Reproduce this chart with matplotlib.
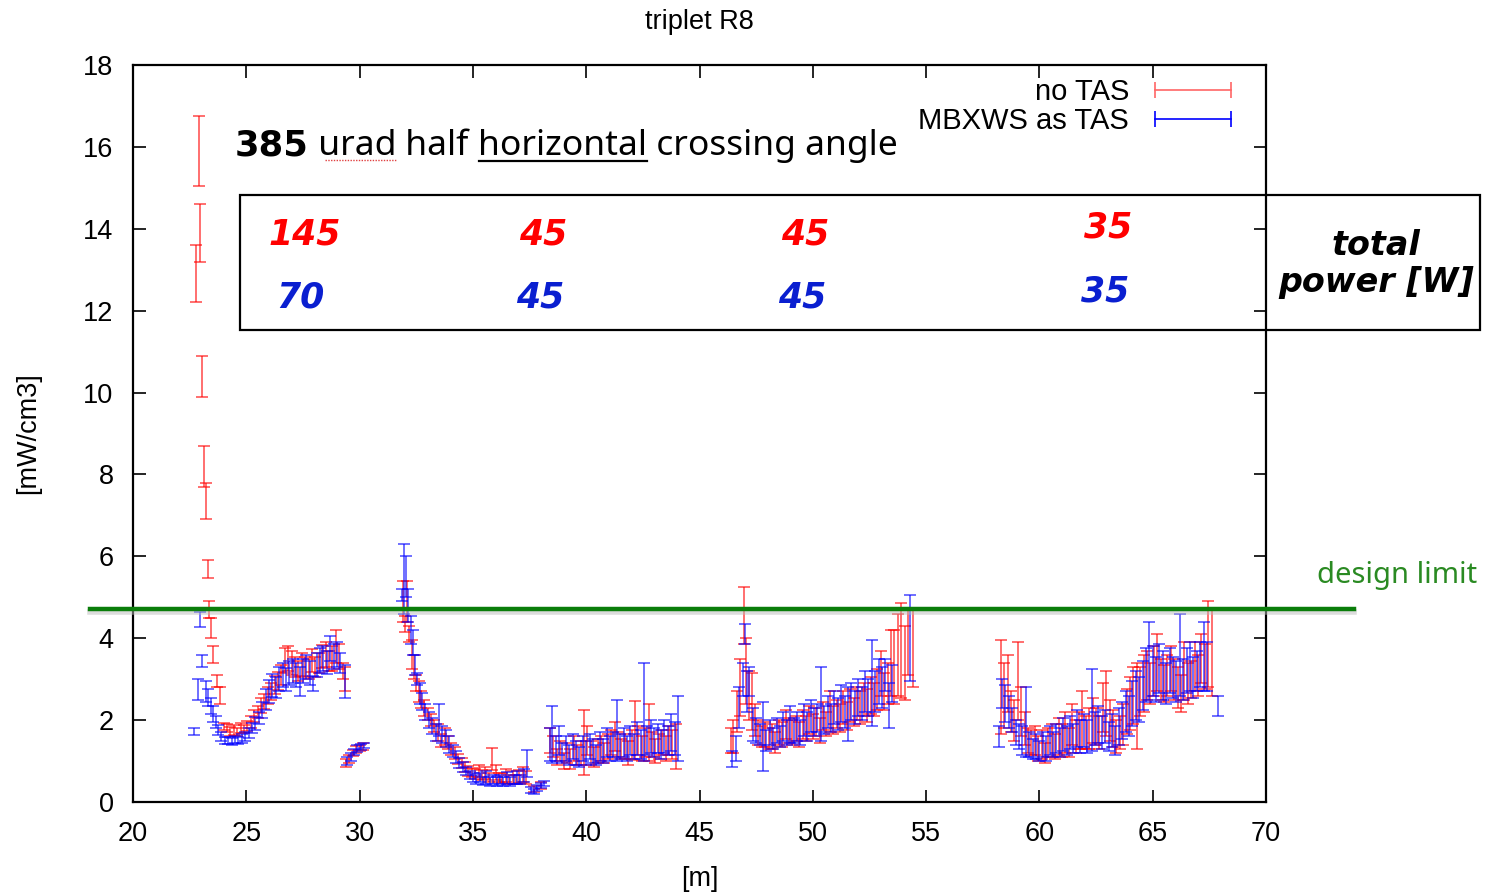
import numpy as np
import matplotlib
matplotlib.use("Agg")
import matplotlib.pyplot as plt
from matplotlib.lines import Line2D
from matplotlib.patches import Rectangle

# ---------------- data ----------------
title = "triplet R8"
x_label = "[m]"
y_label = "[mW/cm3]"
series_names = ["no TAS", "MBXWS as TAS"]
design_limit = 4.72
power_no_tas = ["145", "45", "45", "35"]
power_mbxws = ["70", "45", "45", "35"]

red_x = [22.9, 22.95, 22.8, 23.05, 23.15, 23.2, 23.3, 23.35, 23.45, 23.55, 23.7, 23.85, 24.0,
         24.15, 24.3, 24.45, 24.6, 24.75, 24.9, 25.05, 25.2, 25.35, 25.5, 25.65, 25.8, 25.95, 26.1,
         26.25, 26.4, 26.55, 26.7, 26.85, 27.0, 27.15, 27.3, 27.45, 27.6, 27.75, 27.9, 28.05, 28.2,
         28.35, 28.5, 28.65, 28.8, 28.95, 29.1, 29.25, 29.35,
         29.4, 29.55, 29.7, 29.85, 30.0, 30.15,
         31.9, 32.0, 32.1, 32.2, 32.3, 32.4, 32.5, 32.6, 32.7, 32.85, 33.0, 33.15, 33.3, 33.45, 33.6,
         33.75, 33.9, 34.05, 34.2, 34.35, 34.5, 34.65, 34.8, 34.95, 35.1, 35.25, 35.4, 35.55, 35.7,
         35.85, 36.0, 36.15, 36.3, 36.45, 36.6, 36.75, 36.9, 37.05, 37.2, 37.35, 37.7, 38.0,
         38.4, 38.55, 38.7, 38.85, 39.0, 39.15, 39.3, 39.45, 39.6, 39.75, 39.9, 40.05, 40.2, 40.35,
         40.5, 40.65, 40.8, 40.95, 41.1, 41.25, 41.4, 41.55, 41.7, 41.85, 42.0, 42.15, 42.3, 42.45,
         42.6, 42.75, 42.9, 43.05, 43.2, 43.35, 43.5, 43.65, 43.8, 43.95,
         46.4, 46.5, 46.65, 46.8, 46.95, 47.05, 47.2, 47.3, 47.45, 47.6, 47.75, 47.9, 48.05, 48.2,
         48.35, 48.5, 48.65, 48.8, 48.95, 49.1, 49.25, 49.4, 49.55, 49.7, 49.85, 50.0, 50.15, 50.3,
         50.45, 50.6, 50.75, 50.9, 51.05, 51.2, 51.35, 51.5, 51.65, 51.8, 51.95, 52.1, 52.25, 52.4,
         52.55, 52.7, 52.85, 53.0, 53.15, 53.3, 53.45, 53.6, 53.75, 53.9, 54.05, 54.2, 54.4,
         58.3, 58.45, 58.6, 58.75, 58.9, 59.05, 59.2, 59.35, 59.5, 59.65, 59.8, 59.95, 60.1, 60.25,
         60.4, 60.55, 60.7, 60.85, 61.0, 61.15, 61.3, 61.45, 61.6, 61.75, 61.9, 62.05, 62.2, 62.35,
         62.5, 62.65, 62.8, 62.95, 63.1, 63.25, 63.4, 63.55, 63.7, 63.85, 64.0, 64.15, 64.3, 64.45,
         64.6, 64.75, 64.9, 65.05, 65.2, 65.35, 65.5, 65.65, 65.8, 65.95, 66.1, 66.25, 66.4, 66.55,
         66.7, 66.85, 67.0, 67.15, 67.3, 67.45, 67.6]
red_y = [15.9, 13.9, 12.9, 10.4, 8.2, 7.35, 5.7, 4.7, 4.25, 3.6, 2.95, 2.6, 1.85,
         1.8, 1.72, 1.75, 1.7, 1.8, 1.78, 1.85, 1.95, 2.1, 2.2, 2.35, 2.45, 2.6, 2.7,
         2.85, 2.95, 3.1, 3.45, 3.5, 3.4, 3.3, 3.2, 3.35, 3.3, 3.25, 3.45, 3.3, 3.4,
         3.55, 3.6, 3.45, 3.5, 3.8, 3.55, 3.2, 3.0,
         0.95, 1.05, 1.2, 1.28, 1.32, 1.35,
         4.9, 4.35, 4.9, 4.1, 3.6, 3.3, 2.9, 2.7, 2.5, 2.3, 2.15, 2.0, 1.85, 1.7, 1.5,
         1.6, 1.45, 1.3, 1.2, 1.05, 0.95, 0.85, 0.75, 0.72, 0.68, 0.75, 0.65, 0.7, 0.6,
         1.05, 0.72, 0.6, 0.58, 0.65, 0.55, 0.6, 0.55, 0.62, 0.68, 0.6, 0.32, 0.4,
         1.5, 1.35, 1.1, 1.25, 1.0, 1.2, 1.05, 1.3, 1.15, 1.2, 1.45, 1.5, 1.2, 1.1,
         1.25, 1.3, 1.2, 1.35, 1.45, 1.6, 1.4, 1.3, 1.35, 1.2, 1.4, 1.75, 1.5, 1.3,
         1.45, 1.7, 1.4, 1.25, 1.35, 1.45, 1.3, 1.5, 1.4, 1.35,
         1.5, 1.6, 2.2, 2.8, 4.55, 3.2, 2.6, 2.45, 2.0, 1.7, 1.6, 1.65, 1.55, 1.6,
         1.45, 1.7, 1.65, 1.9, 1.75, 1.7, 1.8, 1.65, 1.9, 1.8, 2.0, 1.85, 1.95, 1.75,
         2.1, 1.9, 2.2, 2.0, 2.15, 2.05, 2.3, 2.1, 2.35, 2.2, 2.4, 2.3, 2.5, 2.35,
         2.6, 2.5, 2.75, 3.15, 2.7, 2.9, 3.4, 3.3, 3.6, 3.7, 3.4, 3.9, 3.75,
         2.8, 2.6, 2.9, 2.2, 2.0, 2.95, 2.2, 1.8, 1.5, 1.45, 1.5, 1.3, 1.4, 1.2,
         1.45, 1.5, 1.35, 1.6, 1.5, 1.7, 1.45, 1.9, 1.6, 1.75, 2.0, 1.7, 1.8, 2.0,
         1.85, 1.7, 2.3, 2.4, 2.0, 1.8, 1.6, 1.7, 1.9, 2.2, 2.4, 2.6, 2.35, 2.7,
         2.9, 3.1, 2.9, 3.2, 3.4, 3.0, 2.9, 3.1, 3.25, 3.0, 2.8, 2.65, 3.2, 2.9,
         3.0, 3.3, 3.1, 3.5, 3.3, 3.85, 3.65]
red_err = [0.85, 0.7, 0.7, 0.5, 0.5, 0.45, 0.22, 0.2, 0.25, 0.2, 0.15, 0.2, 0.08,
           0.1, 0.1, 0.12, 0.1, 0.12, 0.1, 0.12, 0.15, 0.15, 0.15, 0.18, 0.18, 0.2, 0.2,
           0.22, 0.22, 0.25, 0.3, 0.3, 0.3, 0.25, 0.25, 0.28, 0.25, 0.25, 0.28, 0.25, 0.25,
           0.28, 0.3, 0.25, 0.3, 0.4, 0.3, 0.2, 0.3,
           0.1, 0.1, 0.08, 0.08, 0.08, 0.08,
           0.5, 0.2, 0.5, 0.2, 0.35, 0.3, 0.2, 0.25, 0.2, 0.2, 0.15, 0.15, 0.15, 0.2, 0.15,
           0.2, 0.15, 0.15, 0.15, 0.12, 0.12, 0.12, 0.12, 0.12, 0.12, 0.15, 0.12, 0.15, 0.12,
           0.27, 0.18, 0.12, 0.12, 0.15, 0.12, 0.15, 0.12, 0.15, 0.18, 0.15, 0.08, 0.08,
           0.3, 0.25, 0.2, 0.25, 0.2, 0.25, 0.25, 0.3, 0.25, 0.3, 0.8, 0.35, 0.3, 0.25,
           0.3, 0.3, 0.25, 0.3, 0.3, 0.35, 0.3, 0.25, 0.3, 0.3, 0.35, 0.72, 0.35, 0.3,
           0.35, 0.7, 0.3, 0.3, 0.3, 0.3, 0.3, 0.35, 0.35, 0.55,
           0.3, 0.4, 0.5, 0.7, 0.7, 0.8, 0.6, 0.7, 0.4, 0.3, 0.25, 0.3, 0.25, 0.3,
           0.25, 0.3, 0.3, 0.35, 0.3, 0.3, 0.3, 0.3, 0.35, 0.3, 0.35, 0.3, 0.35, 0.3,
           0.35, 0.3, 0.5, 0.35, 0.35, 0.35, 0.4, 0.35, 0.4, 0.35, 0.4, 0.4, 0.4, 0.4,
           0.45, 0.4, 0.5, 0.55, 0.45, 0.5, 0.8, 0.9, 1.0, 1.15, 0.9, 0.8, 0.95,
           1.15, 0.8, 0.7, 0.5, 0.5, 0.95, 0.6, 0.4, 0.3, 0.3, 0.35, 0.3, 0.35, 0.25,
           0.35, 0.4, 0.3, 0.45, 0.4, 0.5, 0.35, 0.5, 0.4, 0.45, 0.7, 0.4, 0.5, 0.55,
           0.45, 0.4, 0.6, 0.8, 0.5, 0.45, 0.4, 0.4, 0.5, 0.55, 0.65, 0.7, 1.05, 0.6,
           0.7, 0.6, 0.5, 0.6, 0.7, 0.5, 0.45, 0.5, 0.55, 0.5, 0.5, 0.45, 0.7, 0.5,
           0.45, 0.6, 0.5, 0.6, 0.55, 1.05, 1.05]

blue_x = [22.7, 22.95, 23.05, 22.85, 23.2, 23.3, 23.45, 23.55, 23.65, 23.75, 23.9, 24.05, 24.2,
          24.35, 24.5, 24.65, 24.8, 24.95, 25.1, 25.25, 25.4, 25.55, 25.7, 25.85, 26.0, 26.15,
          26.3, 26.45, 26.6, 26.75, 26.9, 27.05, 27.2, 27.35, 27.5, 27.65, 27.8, 27.95, 28.1,
          28.25, 28.4, 28.55, 28.7, 28.85, 29.0, 29.15, 29.35,
          29.45, 29.6, 29.75, 29.9, 30.05, 30.2,
          31.85, 31.95, 32.05, 32.15, 32.25, 32.35, 32.45, 32.55, 32.65, 32.75, 32.9, 33.05, 33.2,
          33.35, 33.5, 33.65, 33.8, 33.95, 34.1, 34.25, 34.4, 34.55, 34.7, 34.85, 35.0, 35.15,
          35.3, 35.45, 35.6, 35.75, 35.9, 36.05, 36.2, 36.35, 36.5, 36.65, 36.8, 36.95, 37.1,
          37.25, 37.4, 37.55, 37.7, 37.85, 38.0, 38.15,
          38.4, 38.5, 38.65, 38.8, 38.95, 39.1, 39.25, 39.4, 39.55, 39.7, 39.85, 40.0, 40.15,
          40.3, 40.45, 40.6, 40.75, 40.9, 41.05, 41.2, 41.35, 41.5, 41.65, 41.8, 41.95, 42.1,
          42.25, 42.4, 42.55, 42.7, 42.85, 43.0, 43.15, 43.3, 43.45, 43.6, 43.75, 43.9, 44.05,
          46.45, 46.6, 46.75, 46.9, 47.0, 47.1, 47.2, 47.35, 47.5, 47.65, 47.8, 47.95, 48.1,
          48.25, 48.4, 48.55, 48.7, 48.85, 49.0, 49.15, 49.3, 49.45, 49.6, 49.75, 49.9, 50.05,
          50.2, 50.35, 50.5, 50.65, 50.8, 50.95, 51.1, 51.25, 51.4, 51.55, 51.7, 51.85, 52.0,
          52.15, 52.3, 52.45, 52.6, 52.75, 52.9, 53.05, 53.2, 53.35, 53.5, 54.3,
          58.2, 58.35, 58.5, 58.65, 58.8, 58.95, 59.1, 59.25, 59.4, 59.55, 59.7, 59.85, 60.0,
          60.15, 60.3, 60.45, 60.6, 60.75, 60.9, 61.05, 61.2, 61.35, 61.5, 61.65, 61.8, 61.95,
          62.1, 62.3, 62.45, 62.6, 62.75, 62.9, 63.05, 63.2, 63.35, 63.5, 63.65, 63.8, 63.95,
          64.1, 64.25, 64.4, 64.55, 64.7, 64.85, 65.0, 65.15, 65.3, 65.45, 65.6, 65.75, 65.9,
          66.05, 66.2, 66.35, 66.5, 66.65, 66.8, 66.95, 67.1, 67.25, 67.4, 67.9]
blue_y = [1.72, 4.45, 3.45, 2.75, 2.7, 2.55, 2.35, 2.15, 1.95, 1.75, 1.6, 1.5, 1.5,
          1.48, 1.52, 1.5, 1.55, 1.6, 1.68, 1.8, 1.92, 2.05, 2.25, 2.5, 2.7, 2.85,
          2.8, 3.0, 3.1, 3.0, 3.15, 3.2, 3.1, 2.95, 3.2, 3.3, 3.15, 2.9, 3.35,
          3.45, 3.5, 3.4, 3.75, 3.55, 3.6, 3.4, 2.95,
          1.0, 1.1, 1.22, 1.3, 1.35, 1.38,
          5.05, 5.45, 5.5, 4.8, 4.2, 3.9, 3.35, 3.0, 2.65, 2.45, 2.2, 2.0, 1.85,
          1.7, 2.0, 1.65, 1.55, 1.4, 1.25, 1.1, 0.95, 0.85, 0.75, 0.65, 0.6, 0.55,
          0.6, 0.52, 0.6, 0.5, 0.55, 0.5, 0.55, 0.5, 0.58, 0.5, 0.55, 0.6, 0.55,
          0.65, 0.95, 0.3, 0.25, 0.35, 0.4, 0.45,
          1.4, 1.65, 1.3, 1.5, 1.2, 1.3, 1.15, 1.35, 1.2, 1.1, 1.3, 1.2, 1.35,
          1.25, 1.15, 1.35, 1.25, 1.45, 1.3, 1.4, 1.75, 1.35, 1.45, 1.3, 1.5, 1.35,
          1.55, 1.4, 2.2, 1.5, 1.6, 1.45, 1.55, 1.4, 1.6, 1.5, 1.7, 1.55, 1.8,
          1.05, 1.3, 2.3, 3.0, 4.1, 2.7, 2.95, 1.9, 1.75, 1.65, 1.6, 1.5, 1.7,
          1.55, 1.75, 1.6, 1.85, 1.7, 1.9, 1.75, 1.85, 1.7, 2.0, 1.85, 2.1, 1.95,
          2.05, 2.4, 2.0, 2.2, 2.05, 2.3, 2.15, 2.4, 2.2, 2.15, 2.45, 2.3, 2.55,
          2.4, 2.7, 2.55, 2.9, 2.7, 2.95, 2.8, 3.1, 2.35, 2.9, 4.0,
          1.6, 2.65, 2.4, 2.2, 2.0, 1.7, 1.6, 1.5, 1.95, 1.4, 1.3, 1.35, 1.25,
          1.4, 1.3, 1.5, 1.4, 1.55, 1.45, 1.65, 1.5, 1.7, 1.55, 1.8, 1.6, 1.75,
          1.6, 2.25, 1.8, 1.9, 1.7, 1.85, 1.6, 1.75, 1.5, 1.85, 2.0, 2.2, 2.1,
          2.4, 2.6, 2.5, 2.85, 3.1, 3.45, 3.2, 3.0, 3.25, 3.1, 2.9, 3.2, 3.05,
          2.95, 3.6, 3.0, 3.2, 3.3, 3.05, 3.2, 3.35, 3.55, 3.3, 2.35]
blue_err = [0.08, 0.18, 0.15, 0.25, 0.25, 0.2, 0.2, 0.2, 0.15, 0.12, 0.1, 0.08, 0.08,
            0.08, 0.08, 0.08, 0.1, 0.1, 0.12, 0.12, 0.15, 0.15, 0.2, 0.25, 0.28, 0.28,
            0.25, 0.3, 0.3, 0.28, 0.3, 0.3, 0.3, 0.35, 0.3, 0.3, 0.3, 0.18, 0.3,
            0.3, 0.3, 0.28, 0.3, 0.3, 0.3, 0.25, 0.4,
            0.1, 0.1, 0.08, 0.08, 0.07, 0.07,
            0.15, 0.85, 0.5, 0.4, 0.35, 0.3, 0.25, 0.15, 0.25, 0.2, 0.2, 0.2, 0.2,
            0.2, 0.4, 0.2, 0.2, 0.2, 0.15, 0.15, 0.12, 0.12, 0.1, 0.1, 0.1, 0.1,
            0.12, 0.1, 0.15, 0.1, 0.12, 0.1, 0.12, 0.1, 0.15, 0.1, 0.12, 0.15, 0.12,
            0.15, 0.33, 0.07, 0.06, 0.07, 0.07, 0.06,
            0.4, 0.7, 0.3, 0.35, 0.25, 0.3, 0.25, 0.3, 0.3, 0.25, 0.3, 0.3, 0.3,
            0.3, 0.25, 0.35, 0.3, 0.35, 0.3, 0.3, 0.75, 0.3, 0.35, 0.3, 0.35, 0.3,
            0.4, 0.35, 1.2, 0.35, 0.4, 0.35, 0.35, 0.35, 0.4, 0.35, 0.45, 0.4, 0.8,
            0.2, 0.3, 0.5, 0.4, 0.25, 0.5, 0.35, 0.4, 0.3, 0.25, 0.85, 0.25, 0.3,
            0.25, 0.3, 0.25, 0.35, 0.3, 0.45, 0.3, 0.35, 0.3, 0.4, 0.35, 0.4, 0.35,
            0.35, 0.9, 0.35, 0.4, 0.35, 0.4, 0.4, 0.45, 0.4, 0.65, 0.45, 0.4, 0.45,
            0.4, 0.5, 0.45, 1.05, 0.5, 0.55, 0.5, 0.4, 0.55, 0.45, 1.05,
            0.25, 0.35, 0.45, 0.4, 0.3, 0.3, 0.3, 0.35, 0.85, 0.3, 0.25, 0.3, 0.25,
            0.3, 0.3, 0.35, 0.3, 0.35, 0.35, 0.4, 0.35, 0.4, 0.35, 0.45, 0.4, 0.4,
            0.4, 1.0, 0.4, 0.45, 0.4, 0.4, 0.35, 0.4, 0.35, 0.45, 0.45, 0.5, 0.5,
            0.55, 0.6, 0.55, 0.6, 0.65, 0.95, 0.6, 0.55, 0.6, 0.6, 0.5, 0.55, 0.5,
            0.5, 1.0, 0.5, 0.55, 0.6, 0.5, 0.5, 0.55, 0.85, 0.6, 0.25]

# ---------------- figure ----------------
W, H = 1488, 893
fig = plt.figure(figsize=(W / 100, H / 100), dpi=100)
plt.rcParams['font.family'] = ['Liberation Sans', 'DejaVu Sans']

def fx(px):
    return px / W

def fy(py):
    return 1 - py / H

ax = fig.add_axes([fx(133), fy(802), fx(1266) - fx(133), fy(65) - fy(802)])
ax.set_xlim(20, 70)
ax.set_ylim(0, 18)
ax.set_xticks(np.arange(20, 71, 5))
ax.set_yticks(np.arange(0, 19, 2))
ax.tick_params(direction='in', length=9, width=1.2, top=True, right=True,
               labelsize=19.5, pad=14, colors='black')
for sp in ax.spines.values():
    sp.set_linewidth(1.6)

ax.errorbar(red_x, red_y, yerr=red_err, fmt='none', ecolor='#ff0000', elinewidth=1.1,
            capsize=4, capthick=1.1, alpha=0.72, zorder=3)
ax.errorbar(blue_x, blue_y, yerr=blue_err, fmt='none', ecolor='#0000ff', elinewidth=1.1,
            capsize=4, capthick=1.1, alpha=0.72, zorder=4)

# design limit line (extends beyond axes)
ax.plot([18.1, 73.9], [design_limit - 0.09, design_limit - 0.09], color='#bbbbbb', lw=4,
        alpha=0.5, clip_on=False, zorder=5)
ax.plot([18.1, 73.9], [design_limit, design_limit], color='#0a7d0a', lw=3.2,
        clip_on=False, zorder=6)
fig.text(fx(1397), fy(575), "design limit", color='#2a8a22', fontsize=21,
         ha='center', va='center', family=['Noto Sans', 'DejaVu Sans'])

ax.set_title(title, fontsize=19.5, pad=26)
ax.set_xlabel(x_label, fontsize=19.5, labelpad=13)
ax.set_ylabel(y_label, fontsize=19.5, labelpad=30)

# legend
h_red = Line2D([0, 1], [0, 0], color='#ff6666', lw=1.2, marker='|', markersize=11,
               markeredgewidth=1.2)
h_blue = Line2D([0, 1], [0, 0], color='#0000ff', lw=1.2, marker='|', markersize=11,
                markeredgewidth=1.2)
leg = ax.legend([h_red, h_blue], series_names, loc='upper right',
                bbox_to_anchor=((1240 - 133) / (1266 - 133), (802 - 78) / (802 - 65)),
                markerfirst=False, frameon=False, fontsize=21, handlelength=3.2,
                numpoints=2, borderpad=0, borderaxespad=0, labelspacing=0.05,
                handletextpad=0.6)

# box with total power numbers
box = Rectangle((fx(240), fy(330)), fx(1480) - fx(240), fy(195) - fy(330),
                transform=fig.transFigure, fill=False, edgecolor='black', lw=1.6,
                zorder=10)
fig.patches.append(box)

num_font = dict(fontsize=25, fontweight='bold', style='italic',
                family=['DejaVu Sans'], ha='center', va='center')
red_pos = [(305, 235), (543, 235), (805, 235), (1108, 228)]
blue_pos = [(300, 298), (540, 298), (802, 298), (1105, 292)]
for lab, (px, py) in zip(power_no_tas, red_pos):
    fig.text(fx(px), fy(py), lab, color='#ff0000', **num_font)
for lab, (px, py) in zip(power_mbxws, blue_pos):
    fig.text(fx(px), fy(py), lab, color='#0a1fd0', **num_font)
fig.text(fx(1376), fy(264), "total\npower [W]", color='black', fontsize=24,
         fontweight='bold', style='italic', family=['DejaVu Sans'], ha='center',
         va='center', linespacing=1.15)

# headline text pieces
fig.canvas.draw()
renderer = fig.canvas.get_renderer()
pieces = [("385", 'bold', None), (" urad", 'normal', 'wavy'), (" half ", 'normal', None),
          ("horizontal", 'normal', 'under'), (" crossing angle", 'normal', None)]
cur_x = fx(235)
base_y = fy(155)
for txt, wt, deco in pieces:
    fam = ['DejaVu Sans'] if wt == 'bold' else ['Noto Sans', 'DejaVu Sans']
    t = fig.text(cur_x, base_y, txt, fontsize=25.5, fontweight=wt, color='black',
                 ha='left', va='baseline', family=fam)
    bb = t.get_window_extent(renderer)
    x0 = bb.x0 / W
    x1 = bb.x1 / W
    if deco == 'under':
        fig.add_artist(Line2D([x0 + 0.001, x1], [base_y - 0.007, base_y - 0.007],
                              transform=fig.transFigure, color='black', lw=1.6))
    elif deco == 'wavy':
        fig.add_artist(Line2D([x0 + 0.011, x1], [base_y - 0.006, base_y - 0.006],
                              transform=fig.transFigure, color='#e04040', lw=1.0,
                              linestyle=(0, (1, 1))))
    cur_x = x1

fig.savefig("out.png", dpi=100)
